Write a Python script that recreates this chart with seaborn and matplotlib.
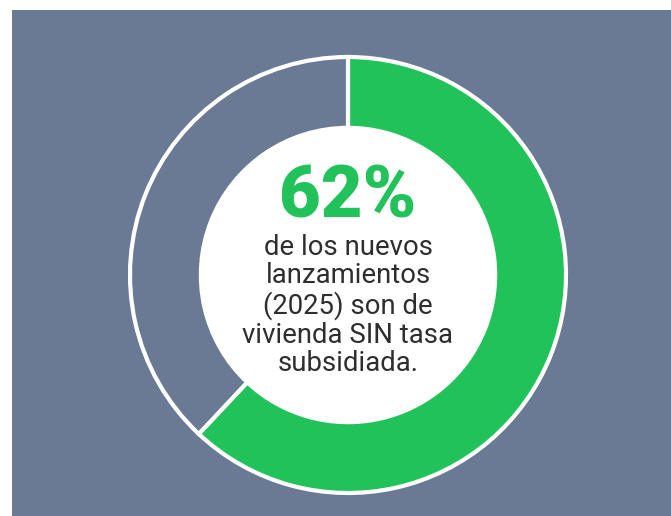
import matplotlib
matplotlib.use("Agg")
import matplotlib.pyplot as plt
import seaborn as sns
from matplotlib.patches import Rectangle, Circle

# datos del gráfico
labels = ["SIN tasa subsidiada", "Con tasa subsidiada"]
shares = [62, 38]
headline = "62%"
caption_lines = [
    "de los nuevos",
    "lanzamientos",
    "(2025) son de",
    "vivienda SIN tasa",
    "subsidiada.",
]

GREEN = "#22c25a"
SLATE = "#6a7a94"
TEXT = "#2e2e2e"

sns.set_theme(style="white")
plt.rcParams["font.family"] = ["Roboto", "DejaVu Sans"]

W, H = 671, 516
fig = plt.figure(figsize=(W / 100, H / 100), dpi=100, facecolor="white")

# panel de fondo (detrás de los ejes)
fig.patches.append(Rectangle((12 / W, 0), 1 - 12 / W, 1 - 10 / H,
                             transform=fig.transFigure, facecolor=SLATE,
                             edgecolor="none", zorder=-5))

# ejes centrados en el donut
cx, cy, r = 348, 275, 218
ax = fig.add_axes([(cx - r) / W, (H - cy - r) / H, 2 * r / W, 2 * r / H])
ax.set_facecolor("none")
ax.set_zorder(2)

wedges, _ = ax.pie(
    shares,
    colors=[GREEN, SLATE],
    startangle=90,
    counterclock=False,
    radius=1,
    wedgeprops=dict(width=0.325, edgecolor="white", linewidth=3),
)
for w in wedges:
    w.set_clip_on(False)

# centro blanco
ax.add_patch(Circle((0, 0), 0.675, facecolor="white", edgecolor="none", zorder=3))
ax.set_xlim(-1, 1)
ax.set_ylim(-1, 1)
ax.set_aspect("equal")
ax.axis("off")

ax.text(0, 0.355, headline, ha="center", va="center", fontsize=52,
        fontweight=900, color=GREEN, zorder=4)
ax.text(0, -0.14, "\n".join(caption_lines), ha="center", va="center",
        fontsize=19.8, color=TEXT, linespacing=1.08, zorder=4)

fig.savefig("out.png", dpi=100, facecolor=fig.get_facecolor())
